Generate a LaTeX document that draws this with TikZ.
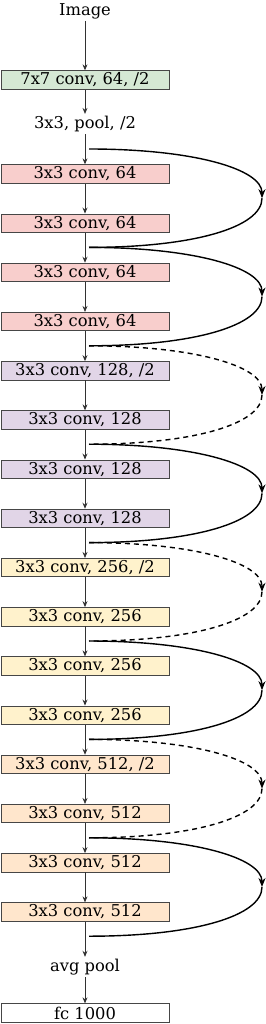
\documentclass[tikz,border=0pt]{standalone}
\usepackage{fontspec}
\setmainfont{DejaVu Serif}
\usetikzlibrary{arrows.meta,calc}
\definecolor{cgreen}{RGB}{213,232,212}
\definecolor{cpink}{RGB}{248,206,204}
\definecolor{cpurple}{RGB}{225,213,231}
\definecolor{cyellow}{RGB}{255,242,204}
\definecolor{corange}{RGB}{255,230,204}
\definecolor{cborder}{RGB}{70,70,70}
\definecolor{carrow}{RGB}{50,50,50}
\begin{document}
\begin{tikzpicture}[x=1pt,y=-1pt,
  layer/.style={draw=cborder,line width=0.8pt,minimum width=168pt,minimum height=18.5pt,inner sep=0pt,font=\fontsize{16.3}{18}\selectfont},
  lbl/.style={inner sep=2pt,font=\fontsize{16.3}{18}\selectfont},
  flow/.style={draw=carrow,line width=0.8pt,-{Stealth[length=6pt,width=5pt]}},
  skip/.style={draw=black,line width=1.4pt},
  skiphead/.style={-{Stealth[length=9pt,width=7pt]}},
  shortcut/.style={skip,dash pattern=on 5pt off 4pt}]
\useasboundingbox (0,0) rectangle (265,1024);
\node[lbl] (img) at (85,11) {Image};
\node[layer,fill=cgreen] (c1) at (85,80) {7x7 conv, 64, /2};
\node[lbl] (pool) at (85,124) {3x3, pool, /2};
\foreach \i/\t/\c in {1/{3x3 conv, 64}/cpink,2/{3x3 conv, 64}/cpink,3/{3x3 conv, 64}/cpink,4/{3x3 conv, 64}/cpink,
  5/{3x3 conv, 128, /2}/cpurple,6/{3x3 conv, 128}/cpurple,7/{3x3 conv, 128}/cpurple,8/{3x3 conv, 128}/cpurple,
  9/{3x3 conv, 256, /2}/cyellow,10/{3x3 conv, 256}/cyellow,11/{3x3 conv, 256}/cyellow,12/{3x3 conv, 256}/cyellow,
  13/{3x3 conv, 512, /2}/corange,14/{3x3 conv, 512}/corange,15/{3x3 conv, 512}/corange,16/{3x3 conv, 512}/corange}
  \node[layer,fill=\c] (b\i) at (85,{174+49.2*(\i-1)}) {\t};
\node[lbl] (avg) at (85,967) {avg pool};
\node[layer,fill=white] (fc) at (85,1013) {fc 1000};
\draw[flow] (img) -- (c1);
\draw[flow] (c1) -- (pool);
\draw[flow] (pool) -- (b1);
\foreach \i [evaluate=\i as \j using int(\i+1)] in {1,...,15}
  \draw[flow] (b\i) -- (b\j);
\draw[flow] (b16) -- (avg);
\draw[flow] (avg) -- (fc);
% skip connection anchor points
\foreach \k in {0,...,8}
  \coordinate (s\k) at (89,{149+98.4*\k});
\foreach \k in {0,...,7}
  \coordinate (m\k) at (262,{149+98.4*\k+49.2});
\foreach \k/\st in {0/skip,1/skip,2/shortcut,3/skip,4/shortcut,5/skip,6/shortcut,7/skip}{
  \pgfmathtruncatemacro{\n}{\k+1}
  \draw[\st,skiphead] (s\k) .. controls ($(s\k)+(105,0)$) and ($(m\k)+(0,-29)$) .. (m\k);
  \draw[\st] (m\k) .. controls ($(m\k)+(0,29)$) and ($(s\n)+(105,0)$) .. (s\n);
}
\end{tikzpicture}
\end{document}
